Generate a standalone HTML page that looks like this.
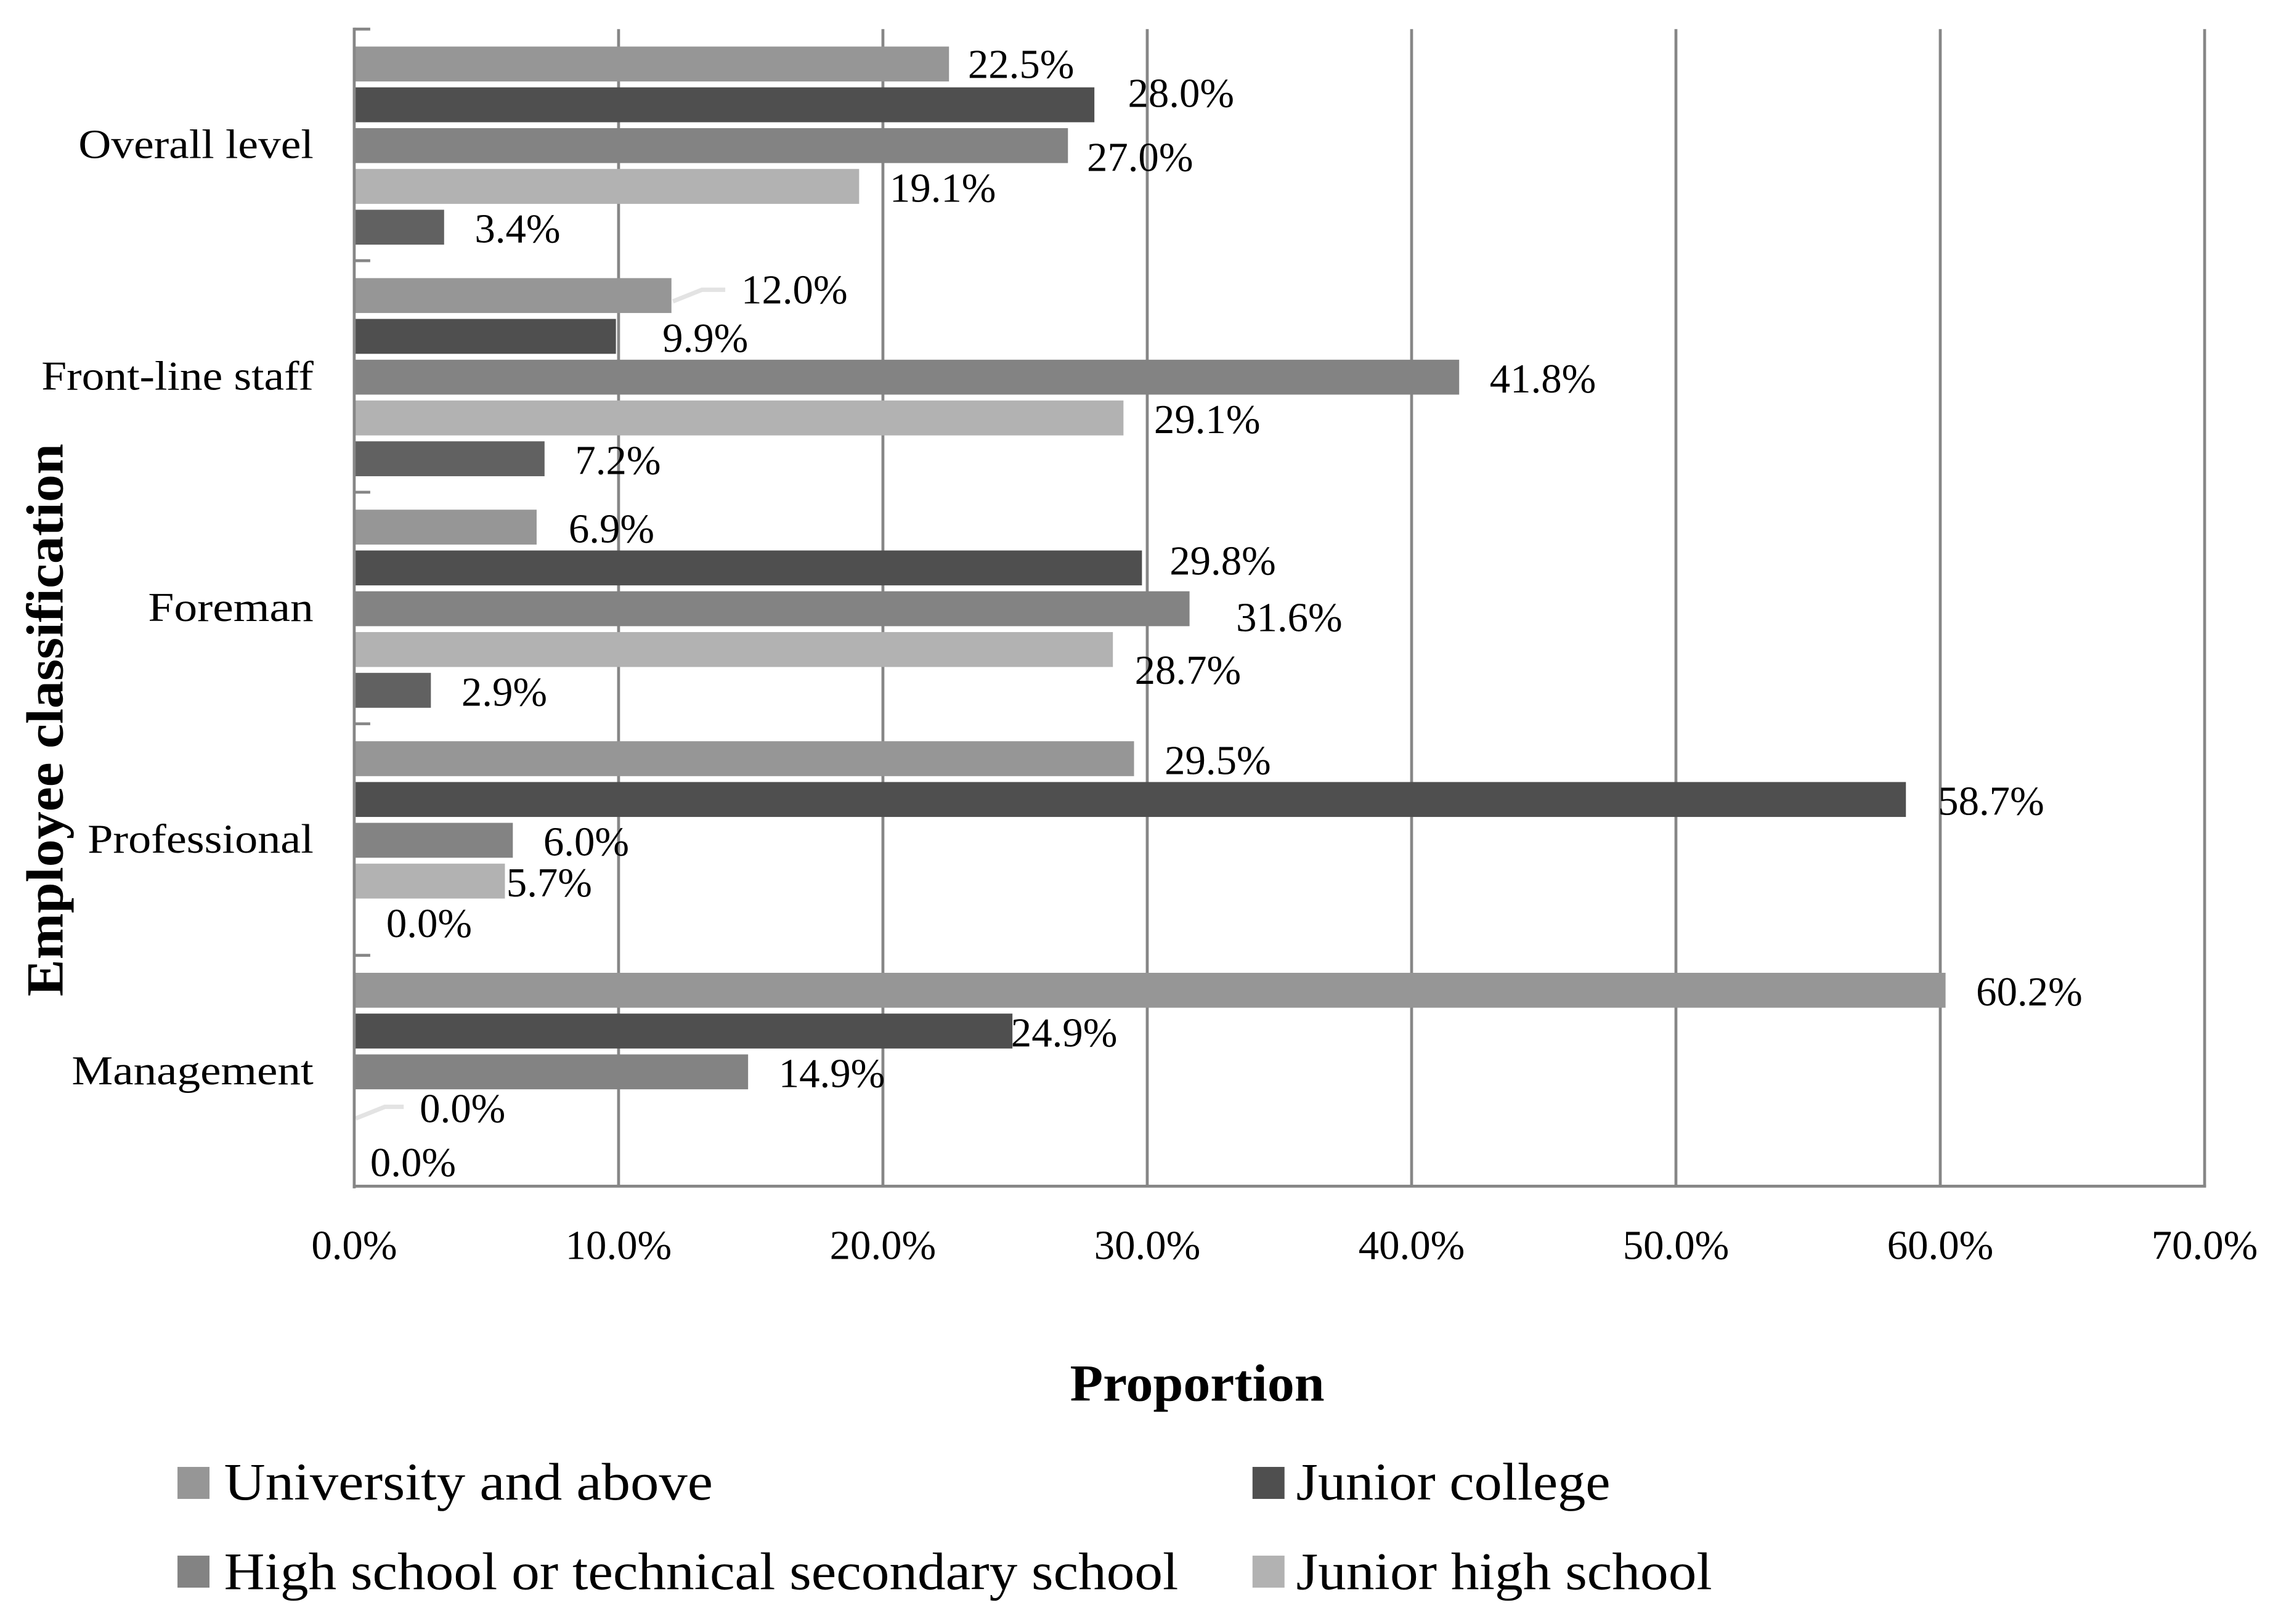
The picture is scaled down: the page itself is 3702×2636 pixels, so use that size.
<!DOCTYPE html>
<html>
<head>
<meta charset="utf-8">
<title>Employee classification by education level</title>
<style>
html,body{margin:0;padding:0;background:#fff;}
svg{display:block;}
text{font-family:"Liberation Serif",serif;fill:#000;}
.lbl{font-size:28.3px;}
.leg{font-size:36.5px;}
.ttl{font-size:36px;font-weight:bold;}
</style>
</head>
<body>
<svg id="chart" xmlns="http://www.w3.org/2000/svg" width="3702" height="2636" viewBox="0 0 1568 1116.5">
  <rect x="0" y="0" width="1568" height="1117" fill="#fff"/>
  <g id="grid"></g>
  <g id="bars"></g>
  <g id="axes"></g>
  <g id="labels"></g>
  <text class="ttl" x="735.5" y="963" textLength="175" lengthAdjust="spacingAndGlyphs">Proportion</text>
  <text class="ttl" transform="translate(43,685) rotate(-90)" x="0" y="0" textLength="380" lengthAdjust="spacingAndGlyphs">Employee classification</text>
  <g>
    <rect x="122" y="1008.5" width="22" height="22" fill="#969696"/>
    <text class="leg" x="154" y="1031" textLength="336" lengthAdjust="spacingAndGlyphs">University and above</text>
    <rect x="861" y="1008.5" width="22" height="22" fill="#4f4f4f"/>
    <text class="leg" x="891" y="1031" textLength="216" lengthAdjust="spacingAndGlyphs">Junior college</text>
    <rect x="122" y="1069.5" width="22" height="22" fill="#838383"/>
    <text class="leg" x="154" y="1092.5" textLength="656" lengthAdjust="spacingAndGlyphs">High school or technical secondary school</text>
    <rect x="861" y="1069.5" width="22" height="22" fill="#b2b2b2"/>
    <text class="leg" x="891" y="1092.5" textLength="286" lengthAdjust="spacingAndGlyphs">Junior high school</text>
  </g>
</svg>
<script>
const categories = ["Overall level", "Front-line staff", "Foreman", "Professional", "Management"];
const xTicks = [0, 10, 20, 30, 40, 50, 60, 70];
const seriesNames = ["university-and-above", "junior-college", "high-school-or-technical", "junior-high-school", "primary-school"];
const universityValues = [22.5, 12.0, 6.9, 29.5, 60.2];
const juniorCollegeValues = [28.0, 9.9, 29.8, 58.7, 24.9];
const highSchoolValues = [27.0, 41.8, 31.6, 6.0, 14.9];
const juniorHighValues = [19.1, 29.1, 28.7, 5.7, 0.0];
const primaryValues = [3.4, 7.2, 2.9, 0.0, 0.0];

const seriesValues = [universityValues, juniorCollegeValues, highSchoolValues, juniorHighValues, primaryValues];
const seriesColors = ["#969696", "#4f4f4f", "#838383", "#b2b2b2", "#616161"];
/* Hand-placed label offsets from the bar end, [series][category] as [dx, dy] */
const labelNudges = [
  [[12,1],[47,-3],[21,2],[20,2],[20,2]],
  [[22,-7],[31,2],[18,-4],[21,2],[-2,2]],
  [[12,9],[20,2],[31,7],[20,2],[20,2]],
  [[20,2],[20,2],[14,15],[0,2],[44,-2]],
  [[20,2],[20,2],[20,2],[21,2],[10,7]]
];
/* Width correction so the fallback serif matches the wider original face */
const categoryStretch = [1.1, 1.1, 1.13, 1.11, 1.125];

const NS = "http://www.w3.org/2000/svg";
const plotLeft = 243.5, plotRight = 1515.5, plotTop = 20, plotBottom = 816, xMax = 70;
const bandHeight = (plotBottom - plotTop) / categories.length;
const barHeight = 24, barStep = 28.05, bandPad = 12;
const xScale = v => plotLeft + (v / xMax) * (plotRight - plotLeft);
const bandTop = c => plotTop + c * bandHeight;
const barTop = (c, s) => bandTop(c) + bandPad + s * barStep;

function make(tag, attrs, parent, txt) {
  const el = document.createElementNS(NS, tag);
  for (const k in attrs) el.setAttribute(k, attrs[k]);
  if (txt !== undefined) el.textContent = txt;
  parent.appendChild(el);
  return el;
}
const gridG = document.getElementById("grid");
const barsG = document.getElementById("bars");
const axesG = document.getElementById("axes");
const labelsG = document.getElementById("labels");

xTicks.forEach(t => {
  if (t > 0) {
    const line = make("line", {x1: xScale(t), x2: xScale(t), y1: plotTop, y2: plotBottom, stroke: "#868686", "stroke-width": 2}, gridG);
    
    
  }
  const tickLabel = make("text", {class: "lbl", x: xScale(t), y: 865.5, "text-anchor": "middle"}, labelsG, t.toFixed(1) + "%");
  
  
});

seriesValues.forEach((vals, s) => {
  vals.forEach((v, c) => {
    const top = barTop(c, s);
    const end = xScale(v);
    if (v > 0) {
      const bar = make("rect", {x: plotLeft, y: top, width: end - plotLeft, height: barHeight, fill: seriesColors[s]}, barsG);
      
      
    }
    const dx = labelNudges[s][c][0], dy = labelNudges[s][c][1];
    const lab = make("text", {class: "lbl", x: end + dx + 1, y: top + barHeight / 2 + dy + 8.5}, labelsG, v.toFixed(1) + "%");
    
    
    if (dx > 40) {
      const cy = top + barHeight / 2;
      const leader = make("polyline", {points: (end + 1) + "," + (cy + 4) + " " + (end + 21) + "," + (cy - 4) + " " + (end + dx - 10) + "," + (cy - 4), fill: "none", stroke: "#e3e3e3", "stroke-width": 3}, barsG);
      
      
    }
  });
});

const yAxis = make("line", {x1: plotLeft, x2: plotLeft, y1: plotTop - 1, y2: plotBottom + 1, stroke: "#868686", "stroke-width": 2}, axesG);


const xAxis = make("line", {x1: plotLeft - 1, x2: plotRight + 1, y1: plotBottom - 0.5, y2: plotBottom - 0.5, stroke: "#868686", "stroke-width": 2}, axesG);



categories.forEach((name, c) => {
  const tick = make("line", {x1: plotLeft, x2: plotLeft + 11, y1: bandTop(c), y2: bandTop(c), stroke: "#868686", "stroke-width": 2}, axesG);
  
  
  const cat = make("text", {class: "lbl", x: 215.5, y: bandTop(c) + bandHeight / 2 + 9, "text-anchor": "end", lengthAdjust: "spacingAndGlyphs"}, labelsG, name);
  
  
  cat.setAttribute("textLength", (cat.getComputedTextLength() * categoryStretch[c]).toFixed(1));
});
</script>
</body>
</html>
